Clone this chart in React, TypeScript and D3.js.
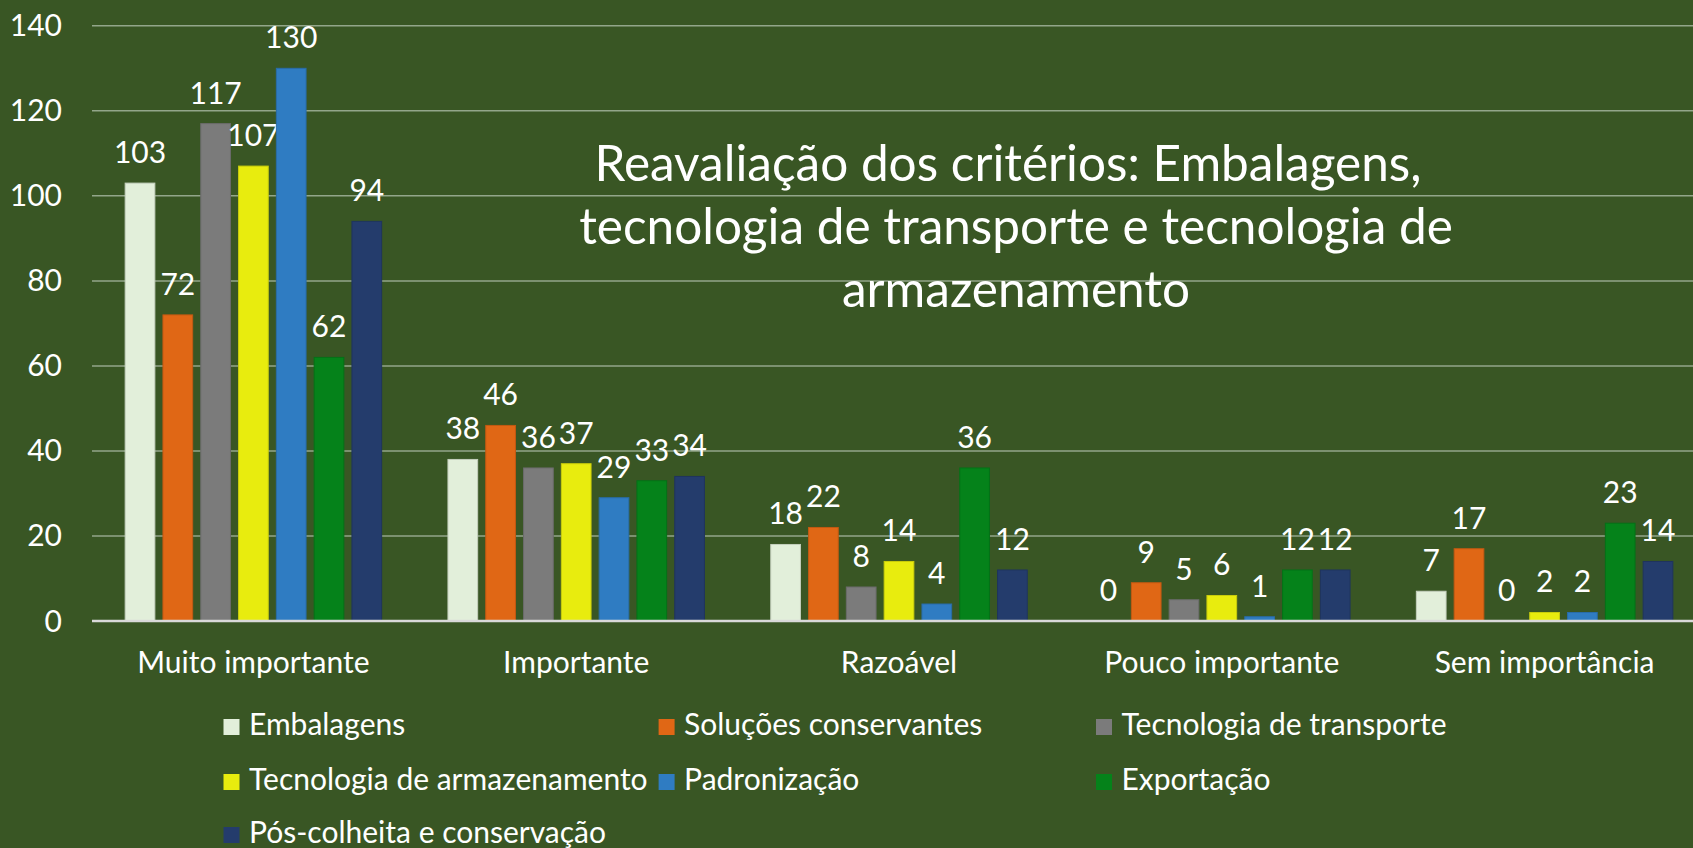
import React from "react";
import * as d3 from "d3";

const categories = ["Muito importante", "Importante", "Razoável", "Pouco importante", "Sem importância"];
const seriesNames = [
  "Embalagens",
  "Soluções conservantes",
  "Tecnologia de transporte",
  "Tecnologia de armazenamento",
  "Padronização",
  "Exportação",
  "Pós-colheita e conservação",
];
const seriesColors = ["#E2EFDA", "#E06715", "#7B7B7B", "#E8EC0E", "#2F7CC2", "#05821A", "#243C6C"];
const embalagens = [103, 38, 18, 0, 7];
const solucoes = [72, 46, 22, 9, 17];
const transporte = [117, 36, 8, 5, 0];
const armazenamento = [107, 37, 14, 6, 2];
const padronizacao = [130, 29, 4, 1, 2];
const exportacao = [62, 33, 36, 12, 23];
const posColheita = [94, 34, 12, 12, 14];
const seriesValues = [embalagens, solucoes, transporte, armazenamento, padronizacao, exportacao, posColheita];
const yTicks = [0, 20, 40, 60, 80, 100, 120, 140];
const titleLines = [
  "Reavaliação dos critérios: Embalagens,",
  "tecnologia de transporte e tecnologia de",
  "armazenamento",
];

const W = 1693;
const H = 848;
const FONT = "Lato, 'Open Sans', sans-serif";
const BG = "#395624";

export default function App() {
  const x = d3.scaleBand<string>().domain(categories).range([92, 1706]).paddingInner(0).paddingOuter(0);
  const xs = d3
    .scaleBand<string>()
    .domain(seriesNames)
    .range([0, x.bandwidth()])
    .paddingInner(0.214)
    .paddingOuter(0.877);
  const y = d3.scaleLinear().domain([0, 140]).range([621, 25.8]);

  const labelSize = 30;
  const legendCols = [223.5, 658.6, 1096];
  const legendRows = [735, 790, 843];

  return (
    <svg
      width={W}
      height={H}
      style={{ position: "absolute", left: 0, top: 0, display: "block" }}
      fontFamily={FONT}
    >
      <rect x={0} y={0} width={W} height={H} fill={BG} />
      {/* gridlines */}
      {yTicks.slice(1).map((t) => (
        <line key={"g" + t} x1={92} x2={W} y1={y(t)} y2={y(t)} stroke="#93A68A" strokeWidth={1.5} />
      ))}
      {/* y tick labels */}
      {yTicks.map((t) => (
        <text key={"yt" + t} x={62} y={y(t) + 10.5} textAnchor="end" fill="#FFFFFF" fontSize={labelSize}>
          {t}
        </text>
      ))}
      {/* title */}
      {titleLines.map((l, i) => (
        <text
          key={"t" + i}
          x={i === 0 ? 1008 : 1016}
          y={181 + i * 63}
          textAnchor="middle"
          fill="#FFFFFF"
          fontSize={49.5}
        >
          {l}
        </text>
      ))}
      {/* bars */}
      {categories.map((c, ci) => (
        <g key={c} transform={`translate(${x(c)},0)`}>
          {seriesNames.map((s, si) => {
            const v = seriesValues[si][ci];
            const bx = xs(s) as number;
            return (
              <g key={s}>
                {v > 0 && (
                  <rect
                    x={bx}
                    y={y(v)}
                    width={xs.bandwidth()}
                    height={y(0) - y(v)}
                    fill={seriesColors[si]}
                    stroke={d3.color(seriesColors[si])!.darker(0.4).toString()}
                    strokeWidth={1}
                  />
                )}
                <text
                  x={bx + xs.bandwidth() / 2}
                  y={y(v) - 20}
                  textAnchor="middle"
                  fill="#FFFFFF"
                  fontSize={labelSize}
                >
                  {v}
                </text>
              </g>
            );
          })}
        </g>
      ))}
      {/* x axis line */}
      <line x1={92} x2={W} y1={y(0)} y2={y(0)} stroke="#D9D9D9" strokeWidth={2.5} />
      {/* category labels */}
      {categories.map((c) => (
        <text
          key={"c" + c}
          x={(x(c) as number) + x.bandwidth() / 2}
          y={673}
          textAnchor="middle"
          fill="#FFFFFF"
          fontSize={labelSize}
        >
          {c}
        </text>
      ))}
      {/* legend */}
      {seriesNames.map((s, i) => {
        const col = i % 3;
        const row = Math.floor(i / 3);
        const lx = legendCols[col];
        const ly = legendRows[row];
        return (
          <g key={"l" + s}>
            <rect x={lx} y={ly - 16} width={16} height={16} fill={seriesColors[i]} />
            <text x={lx + 25.5} y={ly} fill="#FFFFFF" fontSize={labelSize}>
              {s}
            </text>
          </g>
        );
      })}
    </svg>
  );
}
